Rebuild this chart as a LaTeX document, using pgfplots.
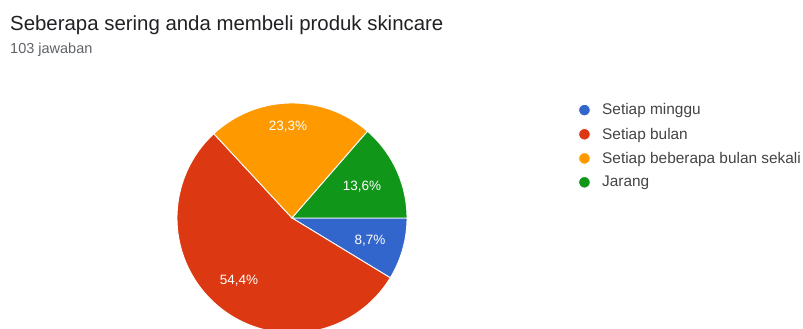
\documentclass[border=0pt]{standalone}
\usepackage{pgfplots}
\pgfplotsset{compat=1.18}
\usepackage{fontspec}
\setmainfont{Liberation Sans}
\definecolor{cblue}{HTML}{3366CC}
\definecolor{cred}{HTML}{DC3912}
\definecolor{corange}{HTML}{FF9900}
\definecolor{cgreen}{HTML}{109618}
\definecolor{ctitle}{HTML}{202124}
\definecolor{csub}{HTML}{5F6368}
\definecolor{clegend}{HTML}{444444}
% data (percent of 103 answers)
\def\pA{8.7}  % Setiap minggu
\def\pB{54.4} % Setiap bulan
\def\pC{23.3} % Setiap beberapa bulan sekali
\def\pD{13.6} % Jarang
\pgfmathsetmacro\aA{0}
\pgfmathsetmacro\aB{\aA-3.6*\pA}
\pgfmathsetmacro\aC{\aB-3.6*\pB}
\pgfmathsetmacro\aD{\aC-3.6*\pC}
\pgfmathsetmacro\aE{\aD-3.6*\pD}
\begin{document}
\begin{tikzpicture}
\useasboundingbox (0,0) rectangle (803pt,329pt);
\node[anchor=base west, inner sep=0pt, text=ctitle, font=\fontsize{20.4}{24}\selectfont] at (10pt,298pt) {Seberapa sering anda membeli produk skincare};
\node[anchor=base west, inner sep=0pt, text=csub, font=\fontsize{14.5}{17}\selectfont] at (10pt,275pt) {103 jawaban};
\begin{axis}[
  at={(292pt,111pt)}, anchor=center,
  width=230pt, height=230pt, scale only axis,
  axis lines=none, xmin=-1, xmax=1, ymin=-1, ymax=1,
  clip=false,
  legend cell align=left,
  legend image code/.code={\fill (0pt,0pt) circle (5.8pt); \path (15.8pt,0pt);},
  legend style={at={(1.7435,1.004)}, anchor=north west, draw=none, fill=none,
    font=\fontsize{15.4}{18}\selectfont, text=clegend,
    row sep=8.5pt, inner sep=0pt, nodes={inner sep=1.5pt}},
]
\addplot[fill=cblue, draw=white, line width=0.9pt, domain=\aB:\aA, samples=40, variable=\t] ({cos(\t)},{sin(\t)}) -- (axis cs:0,0) -- cycle;
\addplot[fill=cred, draw=white, line width=0.9pt, domain=\aC:\aB, samples=120, variable=\t] ({cos(\t)},{sin(\t)}) -- (axis cs:0,0) -- cycle;
\addplot[fill=corange, draw=white, line width=0.9pt, domain=\aD:\aC, samples=60, variable=\t] ({cos(\t)},{sin(\t)}) -- (axis cs:0,0) -- cycle;
\addplot[fill=cgreen, draw=white, line width=0.9pt, domain=\aE:\aD, samples=40, variable=\t] ({cos(\t)},{sin(\t)}) -- (axis cs:0,0) -- cycle;
\legend{Setiap minggu, Setiap bulan, Setiap beberapa bulan sekali, Jarang}
\node[text=white, font=\fontsize{13.5}{16}\selectfont] at (axis cs:-0.035,0.791) {23,3\%};
\node[text=white, font=\fontsize{13.5}{16}\selectfont] at (axis cs:0.609,0.270) {13,6\%};
\node[text=white, font=\fontsize{13.5}{16}\selectfont] at (axis cs:0.678,-0.200) {8,7\%};
\node[text=white, font=\fontsize{13.5}{16}\selectfont] at (axis cs:-0.461,-0.548) {54,4\%};
\end{axis}
\end{tikzpicture}
\end{document}
